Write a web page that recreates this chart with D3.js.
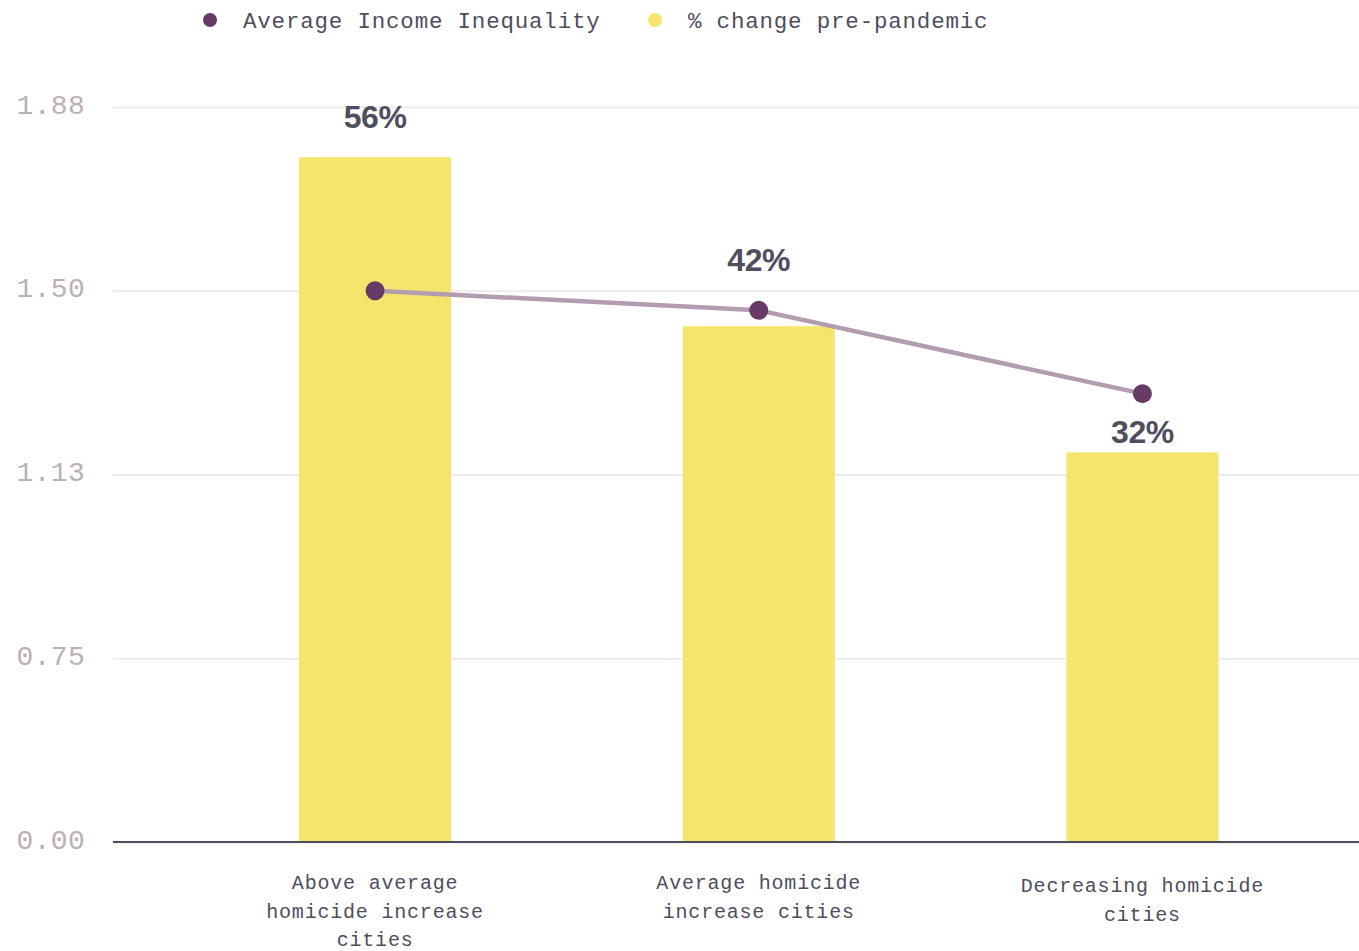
<!DOCTYPE html>
<html><head><meta charset="utf-8">
<script src="https://cdn.jsdelivr.net/npm/d3@7"></script>
<style>
html,body{margin:0;padding:0;background:#fff;}
svg{display:block;}
</style></head>
<body>
<svg id="c" width="1359" height="951"></svg>
<script>
// ---- data ----
const categories = [
  ["Above average", "homicide increase", "cities"],
  ["Average homicide", "increase cities"],
  ["Decreasing homicide", "cities"]
];
const pctChange = [55.9, 42.1, 31.8];          // % change pre-pandemic (bars)
const incomeInequality = [1.50, 1.46, 1.29];   // Average Income Inequality (line)
const tickValues = [0.375, 0.75, 1.125, 1.5, 1.875];
const tickLabels = ["0.00", "0.75", "1.13", "1.50", "1.88"];
const seriesNames = ["Average Income Inequality", "% change pre-pandemic"];

// ---- layout ----
const svg = d3.select("#c");
const plotLeft = 113, plotRight = 1359, plotTop = 107, plotBottom = 842;
const barColor = "#f6e46c", dotColor = "#683a68", lineColor = "#b39bb0";
const mono = "'Liberation Mono','DejaVu Sans Mono',monospace";

const x = d3.scalePoint().domain(d3.range(categories.length)).range([183.25, 1334.25]).padding(0.5);
const yL = d3.scaleLinear().domain([0.375, 1.875]).range([plotBottom, plotTop]);
const yR = d3.scaleLinear().domain([0, 60]).range([plotBottom, plotTop]);
const barW = 152;

// grid
const axis = d3.axisLeft(yL).tickValues(tickValues)
  .tickFormat((d, i) => tickLabels[i]).tickSize(-(plotRight - plotLeft)).tickPadding(28);
const g = svg.append("g").attr("transform", `translate(${plotLeft},0)`).call(axis);
g.select(".domain").remove();
g.selectAll(".tick line").attr("stroke", "#ececec").attr("stroke-width", 2);
g.selectAll(".tick text").attr("fill", "#bbb0b3").style("font-family", mono)
  .style("font-size", "28px").style("letter-spacing", "0.3px").attr("dy", "0.22em");

// bars
svg.append("g").selectAll("rect").data(pctChange).join("rect")
  .attr("x", (d, i) => x(i) - barW / 2).attr("width", barW)
  .attr("y", d => yR(d)).attr("height", d => plotBottom - yR(d))
  .attr("fill", barColor);

// baseline
svg.append("line").attr("x1", plotLeft).attr("x2", plotRight)
  .attr("y1", plotBottom).attr("y2", plotBottom).attr("stroke", "#4f4d5e").attr("stroke-width", 2);

// line
const line = d3.line().x((d, i) => x(i)).y(d => yL(d));
svg.append("path").datum(incomeInequality).attr("d", line)
  .attr("fill", "none").attr("stroke", lineColor).attr("stroke-width", 4.5);
svg.append("g").selectAll("circle").data(incomeInequality).join("circle")
  .attr("cx", (d, i) => x(i)).attr("cy", d => yL(d)).attr("r", 9.5).attr("fill", dotColor);

// value labels
const labelDy = [-29, -55, -9];
svg.append("g").selectAll("text").data(pctChange).join("text")
  .attr("x", (d, i) => x(i)).attr("y", (d, i) => yR(d) + labelDy[i])
  .attr("text-anchor", "middle").attr("fill", "#4f4d5e")
  .style("font-family", "'Liberation Sans',Arial,sans-serif").style("font-weight", "bold")
  .style("font-size", "32px").style("letter-spacing", "-0.4px")
  .text(d => d3.format(".0f")(d) + "%");

// category labels
const catTop = [889, 889, 892];
const cg = svg.append("g").selectAll("text").data(categories).join("text")
  .attr("x", (d, i) => x(i)).attr("y", (d, i) => catTop[i])
  .attr("text-anchor", "middle").attr("fill", "#4f4d5e")
  .style("font-family", mono).style("font-size", "20px").style("letter-spacing", "0.8px");
cg.selectAll("tspan").data(d => d).join("tspan")
  .attr("x", function () { return d3.select(this.parentNode).attr("x"); })
  .attr("dy", (d, j) => j === 0 ? 0 : 28.5).text(d => d);

// legend
const legendX = [210, 655];
const leg = svg.append("g").selectAll("g").data(seriesNames).join("g")
  .attr("transform", (d, i) => `translate(${legendX[i]},20)`);
leg.append("circle").attr("r", 7).attr("fill", (d, i) => i === 0 ? dotColor : barColor);
leg.append("text").attr("x", 33).attr("y", 8).attr("fill", "#4f4d5e")
  .style("font-family", mono).style("font-size", "22.5px").style("letter-spacing", "0.8px")
  .text(d => d);
</script>
</body></html>
